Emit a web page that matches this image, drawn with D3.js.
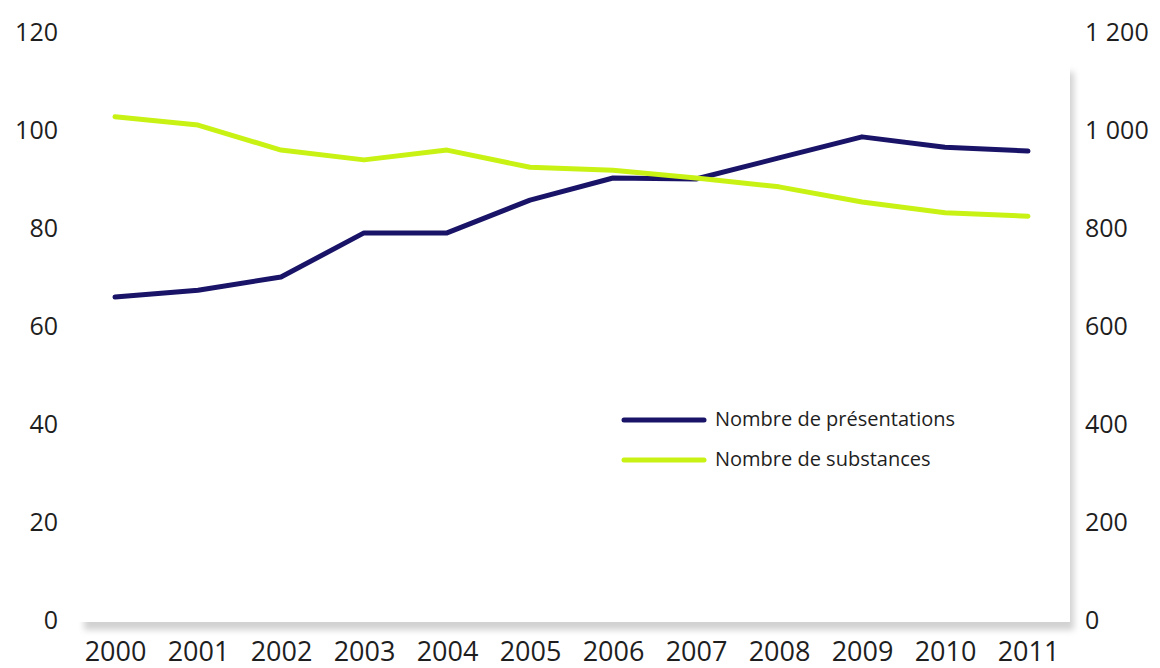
<!DOCTYPE html>
<html>
<head>
<meta charset="utf-8">
<script src="https://cdn.jsdelivr.net/npm/d3@7"></script>
<style>
  body { margin: 0; background: #fff; }
  .axis text { font-family: 'Open Sans', sans-serif; fill: #1e1e1e; }
  .axis path, .axis line { display: none; }
  .legend text { font-family: 'Open Sans', sans-serif; font-size: 20px; fill: #1e1e1e; }
</style>
</head>
<body>
<script>
const years = ['2000', '2001', '2002', '2003', '2004', '2005', '2006', '2007', '2008', '2009', '2010', '2011'];
// left axis (navy)
const presentations = [65.9, 67.3, 70.0, 79.0, 79.0, 85.7, 90.2, 90.0, 94.3, 98.6, 96.5, 95.7];
// right axis (lime)
const substances = [1027, 1010, 959, 939, 959, 924, 918, 902, 884, 853, 831, 824];
const leftTicks = [0, 20, 40, 60, 80, 100, 120];
const rightTicks = [0, 200, 400, 600, 800, 1000, 1200];
const seriesNames = ['Nombre de présentations', 'Nombre de substances'];
const colors = ['#1a1468', '#c8f214'];

const width = 1160;
const height = 668;

const svg = d3.select('body')
  .append('svg')
  .attr('width', width)
  .attr('height', height);

// white panel with soft shadow
const defs = svg.append('defs');
defs.append('filter')
  .attr('id', 'blur')
  .attr('x', '-5%').attr('y', '-5%').attr('width', '110%').attr('height', '110%')
  .append('feGaussianBlur')
  .attr('stdDeviation', 3);

svg.append('rect')
  .attr('x', 84).attr('y', 72)
  .attr('width', 990).attr('height', 558)
  .attr('fill', '#d2d2d2')
  .attr('filter', 'url(#blur)');

svg.append('rect')
  .attr('x', 72).attr('y', 20)
  .attr('width', 998).attr('height', 602)
  .attr('fill', '#fff');

const x = d3.scalePoint().domain(years).range([115, 1028]);
const yL = d3.scaleLinear().domain([0, 120]).range([620, 32]);
const yR = d3.scaleLinear().domain([0, 1200]).range([620, 32]);

const fr = d3.formatLocale({ decimal: ',', thousands: '\u00a0', grouping: [3], currency: ['', ' €'] });

svg.append('g')
  .attr('class', 'axis')
  .attr('transform', 'translate(58,0)')
  .call(d3.axisLeft(yL).tickValues(leftTicks).tickSize(0).tickPadding(0))
  .selectAll('text')
  .style('font-size', '25px');

svg.append('g')
  .attr('class', 'axis')
  .attr('transform', 'translate(1085,0)')
  .call(d3.axisRight(yR).tickValues(rightTicks).tickSize(0).tickPadding(0).tickFormat(fr.format(',d')))
  .selectAll('text')
  .style('font-size', '25px');

svg.append('g')
  .attr('class', 'axis')
  .attr('transform', 'translate(0,642)')
  .call(d3.axisBottom(x).tickSize(0).tickPadding(0))
  .selectAll('text')
  .style('font-size', '27px');

const line = scale => d3.line()
  .x((d, i) => x(years[i]))
  .y(d => scale(d));

svg.append('path')
  .datum(presentations)
  .attr('fill', 'none')
  .attr('stroke', colors[0])
  .attr('stroke-width', 5)
  .attr('stroke-linecap', 'round')
  .attr('stroke-linejoin', 'round')
  .attr('d', line(yL));

svg.append('path')
  .datum(substances)
  .attr('fill', 'none')
  .attr('stroke', colors[1])
  .attr('stroke-width', 5)
  .attr('stroke-linecap', 'round')
  .attr('stroke-linejoin', 'round')
  .attr('d', line(yR));

const legend = svg.append('g')
  .attr('class', 'legend')
  .attr('transform', 'translate(622,420)');

const item = legend.selectAll('g')
  .data(seriesNames)
  .enter()
  .append('g')
  .attr('transform', (d, i) => `translate(0,${i * 40})`);

item.append('line')
  .attr('x1', 2).attr('x2', 82)
  .attr('stroke', (d, i) => colors[i])
  .attr('stroke-width', 5)
  .attr('stroke-linecap', 'round');

item.append('text')
  .attr('x', 93)
  .attr('dy', '0.32em')
  .text(d => d);
</script>
</body>
</html>
